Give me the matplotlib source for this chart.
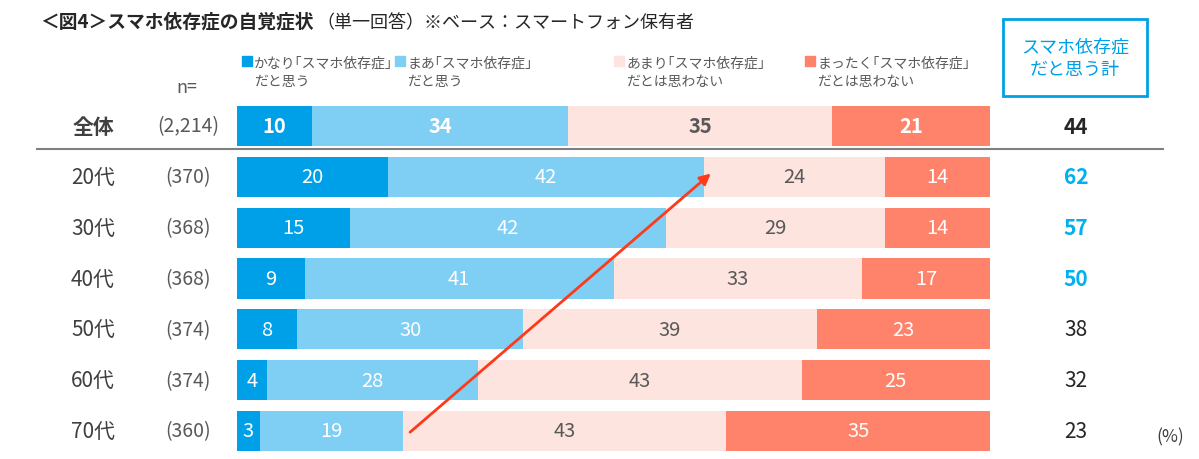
import matplotlib.pyplot as plt
import numpy as np

plt.rcParams['font.family'] = ['Noto Sans CJK JP', 'DejaVu Sans']

# ---------------- DATA ----------------
rows = ["全体", "20代", "30代", "40代", "50代", "60代", "70代"]
n_labels = ["(2,214)", "(370)", "(368)", "(368)", "(374)", "(374)", "(360)"]
very = [10, 20, 15, 9, 8, 4, 3]
somewhat = [34, 42, 42, 41, 30, 28, 19]
not_much = [35, 24, 29, 33, 39, 43, 43]
not_at_all = [21, 14, 14, 17, 23, 25, 35]
totals = [44, 62, 57, 50, 38, 32, 23]
highlight = [False, True, True, True, False, False, False]

series = [very, somewhat, not_much, not_at_all]
legend_labels = ["かなり｢スマホ依存症｣\nだと思う", "まあ｢スマホ依存症｣\nだと思う",
                 "あまり｢スマホ依存症｣\nだとは思わない", "まったく｢スマホ依存症｣\nだとは思わない"]
colors = ["#00A0E9", "#7FCEF4", "#FDE4DF", "#FF826B"]
text_colors = ["white", "white", "#595959", "white"]

W, H = 1199, 460
fig = plt.figure(figsize=(W / 100, H / 100), dpi=100)

# axes spans bar area horizontally (0-100%), full height vertically
x0, x1 = 237, 990
row0, step = 127, 50.83
ax = fig.add_axes([x0 / W, 0, (x1 - x0) / W, 1])
ax.set_xlim(0, 100)
ax.set_ylim((H - row0) / step, -row0 / step)
ax.axis("off")

def px(x, y):
    return x / W, 1 - y / H

y = np.arange(len(rows))
left = np.zeros(len(rows))
for k, vals in enumerate(series):
    vals = np.array(vals)
    ax.barh(y, vals, left=left, height=0.79, color=colors[k], linewidth=0)
    for i, v in enumerate(vals):
        ax.text(left[i] + v / 2, i, str(v), ha="center", va="center",
                color=text_colors[k], fontsize=14.5,
                fontweight="bold" if i == 0 else "normal")
    left += vals

# trend arrow (70代 -> 20代)
ax.annotate("", xy=(63.2, 0.9), xytext=(22.7, 6.06),
            arrowprops=dict(arrowstyle="-|>", color="#FF3A1A", lw=2,
                            mutation_scale=16))

# row labels, n, totals
for i, r in enumerate(rows):
    yy = row0 + step * i
    bold = "bold" if i == 0 else "normal"
    fig.text(*px(93, yy), r, ha="center", va="center", fontsize=15,
             color="#404040", fontweight=bold)
    fig.text(*px(188, yy), n_labels[i], ha="center", va="center",
             fontsize=14, color="#595959")
    fig.text(*px(1076, yy), str(totals[i]), ha="center", va="center",
             fontsize=15, fontweight="bold" if (i == 0 or highlight[i]) else "normal",
             color="#00B0F0" if highlight[i] else "#262626")

fig.text(*px(187, 88), "n=", ha="center", va="center", fontsize=13, color="#595959")
fig.text(*px(1170, 437), "(%)", ha="center", va="center", fontsize=12.5, color="#404040")

# separator under 全体
fig.add_artist(plt.Line2D([37 / W, 1163 / W], [1 - 150 / H, 1 - 150 / H],
                          color="#7F7F7F", lw=1.5))

# legend
leg_x = [247, 400, 619, 810]
for k, lab in enumerate(legend_labels):
    fig.patches.append(plt.Rectangle(px(leg_x[k] - 5, 67), 10 / W, 10 / H,
                                     transform=fig.transFigure, color=colors[k]))
    fig.text(*px(leg_x[k] + 7, 73), lab, ha="left", va="center", fontsize=10,
             color="#595959", linespacing=1.45)

# box on right
fig.patches.append(plt.Rectangle(px(1003, 97), 144 / W, 77 / H,
                                 transform=fig.transFigure, fill=False,
                                 edgecolor="#00A0E9", lw=2))
fig.text(*px(1075, 59), "スマホ依存症\nだと思う計", ha="center", va="center",
         fontsize=13, color="#00A0E9", linespacing=1.3)

# title
fig.text(*px(40, 22), "＜図4＞スマホ依存症の自覚症状", ha="left", va="center",
         fontsize=13.5, fontweight="bold", color="#262626")
fig.text(*px(316, 23), "（単一回答）※ベース：スマートフォン保有者", ha="left",
         va="center", fontsize=13, color="#262626")

fig.savefig("out.png", dpi=100)
